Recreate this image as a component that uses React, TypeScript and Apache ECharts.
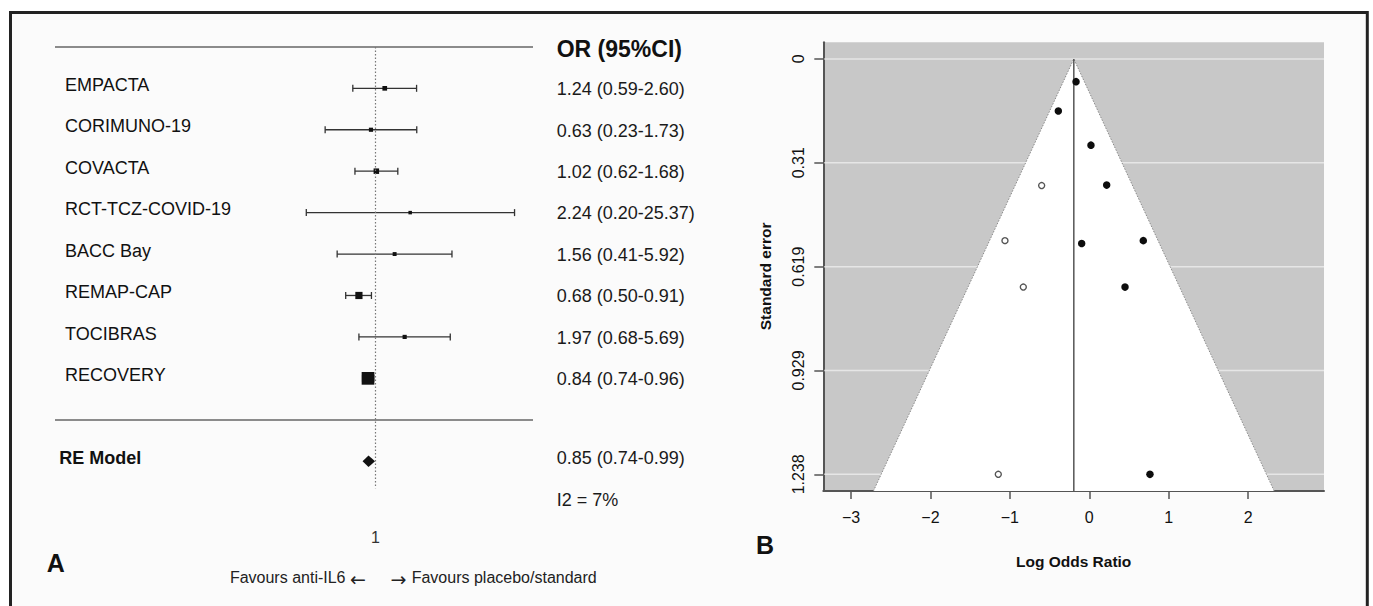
import React, { useEffect, useRef } from "react";
import * as echarts from "echarts";

// ---------- Panel A: forest plot data ----------
const studies = [
  "EMPACTA",
  "CORIMUNO-19",
  "COVACTA",
  "RCT-TCZ-COVID-19",
  "BACC Bay",
  "REMAP-CAP",
  "TOCIBRAS",
  "RECOVERY",
];
// values printed in the OR (95%CI) column
const orEstimate = [1.24, 0.63, 1.02, 2.24, 1.56, 0.68, 1.97, 0.84];
const orLower = [0.59, 0.23, 0.62, 0.2, 0.41, 0.5, 0.68, 0.74];
const orUpper = [2.6, 1.73, 1.68, 25.37, 5.92, 0.91, 5.69, 0.96];
// values as drawn by the markers (CORIMUNO-19 is drawn differently from its label)
const plotEstimate = [1.24, 0.9, 1.02, 2.24, 1.56, 0.68, 1.97, 0.84];
const plotLower = [0.59, 0.31, 0.62, 0.2, 0.41, 0.5, 0.68, 0.74];
const plotUpper = [2.6, 2.61, 1.68, 25.37, 5.92, 0.91, 5.69, 0.96];
const pooledLabel = "RE Model";
const pooledEstimate = 0.85;
const pooledLower = 0.74;
const pooledUpper = 0.99;
const i2Percent = 7;
const forestHeader = "OR (95%CI)";
const refTickLabel = "1";

// ---------- Panel B: funnel plot data ----------
const observedLogOR = [-0.167, -0.39, 0.021, 0.219, -0.096, 0.68, 0.45, 0.764];
const observedSE = [0.0677, 0.155, 0.257, 0.376, 0.55, 0.5415, 0.68, 1.238];
const imputedLogOR = [-0.6, -1.062, -0.831, -1.146];
const imputedSE = [0.3775, 0.5415, 0.68, 1.238];
const funnelCenter = -0.195;
const funnelYTicks = [0, 0.3095, 0.619, 0.9285, 1.238];
const funnelYTickLabels = ["0", "0.31", "0.619", "0.929", "1.238"];
const funnelXTicks = [-3, -2, -1, 0, 1, 2];

const FONT = "'Liberation Sans', Arial, Helvetica, sans-serif";

export default function App() {
  const ref = useRef<HTMLDivElement | null>(null);

  useEffect(() => {
    if (!ref.current) return;
    const chart = echarts.init(ref.current, null, { renderer: "svg" });

    // axis ranges (layout)
    const fxMin = -7.4535;
    const fxMax = 3.6628;
    const fyMin = -1.2;
    const fyMax = 10.6;
    const headerRow = -1;
    const pooledRow = studies.length + 1;
    const i2Row = studies.length + 2;
    const refLineEndRow = 9.65;
    const bxMin = -3.35;
    const bxMax = 2.956;
    const byMin = -0.0495;
    const byMax = 1.2876;

    const ln = Math.log;
    const invSE = studies.map((_, i) => 3.92 / (ln(plotUpper[i]) - ln(plotLower[i])));
    const wMin = Math.min(...invSE);
    const wMax = Math.max(...invSE);
    const forestData = studies.map((_, i) => [
      i,
      ln(plotLower[i]),
      ln(plotEstimate[i]),
      ln(plotUpper[i]),
      3.5 + ((invSE[i] - wMin) / (wMax - wMin)) * 9.2,
    ]);
    const fmt = (e: number, l: number, u: number) =>
      `${e.toFixed(2)} (${l.toFixed(2)}-${u.toFixed(2)})`;

    const rightLabelRows = [
      headerRow + 0.05,
      ...studies.map((_, i) => i + 0.02),
      pooledRow - 0.08,
      i2Row - 0.06,
    ];
    const rightLabel = (v: number) => {
      const r = Math.round(v);
      if (r === headerRow) return forestHeader;
      if (r >= 0 && r < studies.length) return fmt(orEstimate[r], orLower[r], orUpper[r]);
      if (r === pooledRow) return fmt(pooledEstimate, pooledLower, pooledUpper);
      if (r === i2Row) return `I2 = ${i2Percent}%`;
      return "";
    };

    const nearestIdx = (arr: number[], v: number) => {
      let best = 0;
      arr.forEach((a, i) => {
        if (Math.abs(a - v) < Math.abs(arr[best] - v)) best = i;
      });
      return best;
    };

    const hiddenAxisBits = {
      axisLine: { show: false, onZero: false },
      axisTick: { show: false },
      splitLine: { show: false },
    };

    const textEl = (
      text: string,
      x: number,
      y: number,
      align: string,
      size: number,
      extra: any = {}
    ) => ({
      type: "text",
      x,
      y,
      silent: true,
      style: {
        text,
        fontSize: size,
        fontFamily: FONT,
        fill: "#222",
        align,
        verticalAlign: "middle",
        textAlign: align,
        textVerticalAlign: "middle",
        ...extra,
      },
    });

    const option: any = {
      animation: false,
      backgroundColor: "#ffffff",
      textStyle: { fontFamily: FONT },
      grid: [
        { left: 55, top: 38.6, width: 478, height: 488.9 },
        {
          left: 823.3,
          top: 42.3,
          width: 500.7,
          height: 448.7,
          show: true,
          backgroundColor: "#c8c8c8",
          borderWidth: 0,
        },
      ],
      xAxis: [
        {
          gridIndex: 0,
          type: "value",
          min: fxMin,
          max: fxMax,
          ...hiddenAxisBits,
          axisLabel: {
            customValues: [0],
            formatter: () => refTickLabel,
            fontSize: 16,
            color: "#333",
            margin: 2,
            fontFamily: FONT,
          },
        },
        {
          gridIndex: 1,
          type: "value",
          min: bxMin,
          max: bxMax,
          axisLine: { onZero: false, lineStyle: { color: "#555", width: 2 } },
          axisTick: {
            customValues: funnelXTicks,
            length: 8,
            lineStyle: { color: "#555", width: 1.5 },
          },
          axisLabel: {
            customValues: funnelXTicks,
            formatter: (v: number) => (v < 0 ? "\u2212" + Math.abs(v) : String(v)),
            fontSize: 16,
            color: "#111",
            margin: 18,
            fontFamily: FONT,
          },
          splitLine: { show: false },
          name: "Log Odds Ratio",
          nameLocation: "middle",
          nameGap: 62,
          nameTextStyle: { fontWeight: "bold", fontSize: 15.5, color: "#111", fontFamily: FONT },
        },
      ],
      yAxis: [
        {
          gridIndex: 0,
          type: "value",
          inverse: true,
          min: fyMin,
          max: fyMax,
          position: "left",
          ...hiddenAxisBits,
          axisLabel: {
            inside: true,
            margin: 10,
            align: "left",
            customValues: studies.map((_, i) => i - 0.08),
            formatter: (v: number) => studies[Math.round(v)] ?? "",
            fontSize: 18,
            color: "#111",
            fontFamily: FONT,
          },
        },
        {
          gridIndex: 0,
          type: "value",
          inverse: true,
          min: fyMin,
          max: fyMax,
          position: "left",
          ...hiddenAxisBits,
          axisLabel: {
            inside: true,
            margin: 4.3,
            align: "left",
            customValues: [pooledRow - 0.085],
            formatter: () => pooledLabel,
            fontSize: 18,
            fontWeight: "bold",
            color: "#111",
            fontFamily: FONT,
          },
        },
        {
          gridIndex: 0,
          type: "value",
          inverse: true,
          min: fyMin,
          max: fyMax,
          position: "right",
          ...hiddenAxisBits,
          axisLabel: {
            margin: 23.7,
            align: "left",
            customValues: rightLabelRows,
            formatter: (v: number) =>
              Math.round(v) === headerRow ? `{h|${rightLabel(v)}}` : rightLabel(v),
            fontSize: 18,
            color: "#1a1a1a",
            fontFamily: FONT,
            rich: {
              h: { fontSize: 23, fontWeight: "bold", color: "#111", fontFamily: FONT },
            },
          },
        },
        {
          gridIndex: 1,
          type: "value",
          inverse: true,
          min: byMin,
          max: byMax,
          axisLine: { onZero: false, lineStyle: { color: "#555", width: 2 } },
          axisTick: {
            customValues: funnelYTicks,
            length: 9,
            lineStyle: { color: "#555", width: 1.5 },
          },
          axisLabel: {
            customValues: funnelYTicks,
            formatter: (v: number) => funnelYTickLabels[nearestIdx(funnelYTicks, v)],
            rotate: 90,
            fontSize: 16,
            color: "#111",
            margin: 17,
            fontFamily: FONT,
          },
          splitLine: { show: false },
        },
      ],
      series: [
        {
          type: "custom",
          name: "studies",
          xAxisIndex: 0,
          yAxisIndex: 0,
          data: forestData,
          encode: { x: [1, 2, 3], y: 0 },
          renderItem: (params: any, api: any) => {
            const row = api.value(0);
            const lo = api.coord([api.value(1), row]);
            const est = api.coord([api.value(2), row]);
            const hi = api.coord([api.value(3), row]);
            const s = api.value(4);
            const stroke = { stroke: "#333", lineWidth: 1.3 };
            return {
              type: "group",
              children: [
                { type: "line", shape: { x1: lo[0], y1: lo[1], x2: hi[0], y2: hi[1] }, style: stroke },
                { type: "line", shape: { x1: lo[0], y1: lo[1] - 3.5, x2: lo[0], y2: lo[1] + 3.5 }, style: stroke },
                { type: "line", shape: { x1: hi[0], y1: hi[1] - 3.5, x2: hi[0], y2: hi[1] + 3.5 }, style: stroke },
                {
                  type: "rect",
                  shape: { x: est[0] - s / 2, y: est[1] - s / 2, width: s, height: s },
                  style: { fill: "#111" },
                },
              ],
            };
          },
          markLine: {
            silent: true,
            symbol: ["none", "none"],
            label: { show: false },
            data: [
              { yAxis: headerRow, lineStyle: { color: "#666", width: 1.7, type: "solid" } },
              { yAxis: studies.length, lineStyle: { color: "#666", width: 1.7, type: "solid" } },
              [
                { coord: [0, headerRow], lineStyle: { color: "#777", width: 1.2, type: [1.5, 2] } },
                { coord: [0, refLineEndRow] },
              ],
            ],
          },
          z: 3,
        },
        {
          type: "custom",
          name: "pooled",
          xAxisIndex: 0,
          yAxisIndex: 0,
          data: [[pooledRow, ln(pooledLower), ln(pooledEstimate), ln(pooledUpper)]],
          encode: { x: [1, 2, 3], y: 0 },
          renderItem: (params: any, api: any) => {
            const row = api.value(0);
            const lo = api.coord([api.value(1), row]);
            const est = api.coord([api.value(2), row]);
            const hi = api.coord([api.value(3), row]);
            const h = 5.8;
            return {
              type: "polygon",
              shape: { points: [[lo[0], lo[1]], [est[0], est[1] - h], [hi[0], hi[1]], [est[0], est[1] + h]] },
              style: { fill: "#111" },
            };
          },
          z: 3,
        },
        {
          type: "custom",
          name: "gridlines",
          xAxisIndex: 1,
          yAxisIndex: 3,
          data: funnelYTicks.map((v) => [0, v]),
          encode: { x: 0, y: 1 },
          renderItem: (params: any, api: any) => {
            const v = api.value(1);
            const a = api.coord([bxMin, v]);
            const b = api.coord([bxMax, v]);
            return {
              type: "line",
              shape: { x1: a[0] + 1, y1: a[1], x2: b[0], y2: b[1] },
              style: { stroke: "#e6e6e6", lineWidth: 1.5 },
            };
          },
          z: 1,
        },
        {
          type: "custom",
          name: "funnel",
          xAxisIndex: 1,
          yAxisIndex: 3,
          data: [[funnelCenter, 0]],
          encode: { x: 0, y: 1 },
          renderItem: (params: any, api: any) => {
            const c = api.value(0);
            const apex = api.coord([c, 0]);
            const bl = api.coord([c - 1.96 * byMax, byMax]);
            const br = api.coord([c + 1.96 * byMax, byMax]);
            const bottom = api.coord([c, byMax]);
            return {
              type: "group",
              children: [
                {
                  type: "polygon",
                  shape: { points: [apex, bl, br] },
                  style: { fill: "#ffffff" },
                },
                {
                  type: "polyline",
                  shape: { points: [bl, apex, br] },
                  style: { stroke: "#8a8a8a", lineWidth: 1, lineDash: [1.5, 1.5], fill: null },
                },
                {
                  type: "line",
                  shape: { x1: apex[0], y1: apex[1], x2: bottom[0], y2: bottom[1] },
                  style: { stroke: "#555", lineWidth: 1.5 },
                },
              ],
            };
          },
          z: 2,
        },
        {
          type: "scatter",
          name: "observed",
          xAxisIndex: 1,
          yAxisIndex: 3,
          data: observedLogOR.map((x, i) => [x, observedSE[i]]),
          symbol: "circle",
          symbolSize: 7.5,
          itemStyle: { color: "#0d0d0d", opacity: 1 },
          z: 4,
        },
        {
          type: "scatter",
          name: "imputed",
          xAxisIndex: 1,
          yAxisIndex: 3,
          data: imputedLogOR.map((x, i) => [x, imputedSE[i]]),
          symbol: "circle",
          symbolSize: 6,
          itemStyle: { color: "#ffffff", borderColor: "#555", borderWidth: 1.4, opacity: 1 },
          z: 4,
        },
      ],
      graphic: [
        {
          type: "rect",
          silent: true,
          z: -10,
          shape: { x: 10.5, y: 12.5, width: 1356.8, height: 600 },
          style: { fill: "#fbfbfb" },
        },
        {
          type: "polyline",
          silent: true,
          shape: { points: [[10.5, 612], [10.5, 12.5], [1367.3, 12.5], [1367.3, 612]] },
          style: { stroke: "#222", lineWidth: 3, fill: null },
        },
        textEl("A", 46.7, 563.3, "left", 25, { fontWeight: "bold", fill: "#111" }),
        textEl("B", 756, 544.5, "left", 25, { fontWeight: "bold", fill: "#111" }),
        textEl("Favours anti-IL6", 345.5, 577.7, "right", 16),
        textEl("\u2190", 358, 578.5, "center", 19, { fontFamily: "'DejaVu Sans', sans-serif" }),
        textEl("\u2192", 398.5, 578.5, "center", 19, { fontFamily: "'DejaVu Sans', sans-serif" }),
        textEl("Favours placebo/standard", 411.7, 577.7, "left", 16),
        {
          ...textEl("Standard error", 765, 276.4, "center", 15.5, { fontWeight: "bold", fill: "#111" }),
          rotation: Math.PI / 2,
        },
      ],
    };

    chart.setOption(option);
    return () => {
      chart.dispose();
    };
  }, []);

  return (
    <div
      ref={ref}
      style={{ position: "fixed", left: 0, top: 0, width: 1373, height: 606, background: "#ffffff" }}
    />
  );
}
